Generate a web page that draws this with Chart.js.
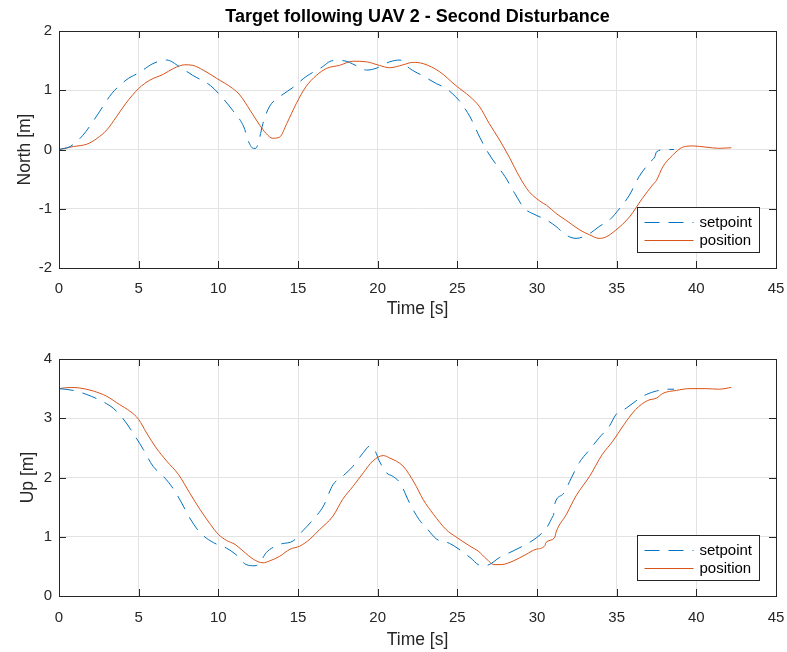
<!DOCTYPE html>
<html>
<head>
<meta charset="utf-8">
<script src="https://cdn.jsdelivr.net/npm/chart.js@4.4.1/dist/chart.umd.min.js"></script>
<style>
  html, body { margin: 0; padding: 0; background: #fff; overflow: hidden; }
  #wrap { position: relative; width: 787px; height: 652px; }
  .box { position: absolute; left: 0; width: 787px; height: 326px; }
  #title {
    position: absolute; left: 59px; width: 717px; top: 6px;
    text-align: center; font: bold 18px "Liberation Sans", Arial, sans-serif; color: #000;
  }
</style>
</head>
<body>
<div id="wrap">
  <div class="box" style="top:0"><canvas id="northChart"></canvas></div>
  <div class="box" style="top:326px"><canvas id="upChart"></canvas></div>
  <div id="title">Target following UAV 2 - Second Disturbance</div>
</div>
<script>
// Time axis ticks (shared)
const timeTicks = [0, 5, 10, 15, 20, 25, 30, 35, 40, 45];
const northTicks = [-2, -1, 0, 1, 2];
const upTicks = [0, 1, 2, 3, 4];

// North - setpoint
const tNorthSet = [0, 0.7, 1.5, 2.4, 3.3, 4.2, 5.1, 5.9, 6.75, 7.6, 8.4, 9.5, 10.2, 10.9, 11.6, 11.9, 12.2, 12.35, 12.6, 12.8, 13.2, 13.85, 14.7, 15.5, 16.4, 17.2, 17.8, 18.7, 19.3, 19.9, 20.75, 21.4, 22.0, 22.85, 23.7, 24.3, 24.7, 25.1, 25.8, 26.4, 26.9, 27.4, 28.0, 28.6, 29.2, 29.95, 30.6, 31.2, 31.8, 32.45, 33.3, 33.9, 34.55, 35.2, 35.8, 36.4, 37.1, 37.4, 37.5, 38.1, 38.6];
const northSet = [0, 0.05, 0.24, 0.58, 0.94, 1.17, 1.31, 1.45, 1.51, 1.39, 1.25, 1.08, 0.89, 0.66, 0.38, 0.13, 0.02, 0.02, 0.21, 0.44, 0.72, 0.89, 1.05, 1.23, 1.37, 1.5, 1.5, 1.41, 1.34, 1.37, 1.48, 1.51, 1.37, 1.24, 1.11, 1.03, 0.94, 0.83, 0.55, 0.21, -0.04, -0.24, -0.46, -0.74, -0.99, -1.11, -1.19, -1.30, -1.44, -1.50, -1.42, -1.30, -1.19, -0.99, -0.77, -0.46, -0.21, -0.12, -0.04, 0.0, 0.0];

// North - position
const tNorthPos = [0, 0.9, 1.75, 2.4, 3.0, 3.6, 4.2, 5.0, 5.7, 6.55, 7.2, 7.9, 8.4, 9.05, 9.9, 10.9, 11.35, 12.0, 12.6, 13.0, 13.4, 13.85, 14.3, 14.9, 15.5, 16.15, 16.8, 17.6, 18.45, 19.3, 20.1, 20.75, 21.6, 22.2, 22.85, 23.9, 24.9, 25.8, 26.4, 27.0, 27.65, 28.3, 28.9, 29.5, 30.4, 30.6, 31.2, 31.8, 32.7, 33.3, 33.9, 34.3, 34.95, 35.8, 36.6, 37.25, 37.5, 37.9, 38.5, 39.15, 39.8, 40.6, 41.4, 42.2];
const northPos = [0, 0.05, 0.09, 0.19, 0.33, 0.55, 0.78, 1.03, 1.17, 1.27, 1.37, 1.43, 1.42, 1.34, 1.2, 1.03, 0.92, 0.66, 0.41, 0.27, 0.19, 0.21, 0.44, 0.78, 1.06, 1.25, 1.37, 1.42, 1.49, 1.48, 1.42, 1.38, 1.43, 1.47, 1.45, 1.31, 1.08, 0.89, 0.72, 0.44, 0.16, -0.15, -0.46, -0.71, -0.91, -0.94, -1.08, -1.19, -1.36, -1.44, -1.50, -1.48, -1.36, -1.14, -0.83, -0.60, -0.52, -0.29, -0.1, 0.04, 0.06, 0.04, 0.02, 0.03];

// Up - setpoint
const tUpSet = [0, 0.9, 1.75, 2.6, 3.4, 4.0, 4.65, 5.3, 5.9, 6.55, 7.2, 7.7, 8.2, 8.85, 9.7, 10.5, 11.1, 11.75, 12.3, 12.6, 13.0, 13.85, 14.7, 15.3, 15.95, 16.6, 17.2, 17.8, 18.45, 19.1, 19.5, 19.8, 20.1, 20.55, 20.95, 21.4, 22.0, 22.6, 23.15, 23.7, 24.5, 25.1, 25.8, 26.5, 27.0, 27.65, 28.5, 29.3, 29.95, 30.6, 31.0, 31.05, 31.1, 31.6, 32.15, 32.65, 33.3, 33.9, 34.55, 34.95, 35.6, 36.2, 36.85, 37.5, 38.1, 38.6];
const upSet = [3.5, 3.47, 3.40, 3.30, 3.17, 3.0, 2.75, 2.47, 2.19, 2.02, 1.80, 1.57, 1.32, 1.07, 0.90, 0.81, 0.70, 0.53, 0.51, 0.56, 0.73, 0.87, 0.93, 1.10, 1.29, 1.52, 1.88, 2.02, 2.19, 2.42, 2.53, 2.47, 2.28, 2.08, 2.02, 1.91, 1.57, 1.29, 1.12, 0.96, 0.89, 0.79, 0.65, 0.51, 0.53, 0.65, 0.76, 0.87, 0.98, 1.15, 1.35, 1.38, 1.54, 1.71, 1.99, 2.25, 2.47, 2.67, 2.87, 3.06, 3.17, 3.29, 3.40, 3.46, 3.49, 3.49];

// Up - position
const tUpPos = [0, 0.7, 1.3, 2.15, 3.0, 3.8, 4.45, 5.0, 5.5, 6.1, 6.75, 7.5, 8.2, 8.85, 9.5, 10.0, 10.5, 11.05, 11.55, 12.2, 12.8, 13.2, 13.85, 14.5, 15.1, 15.75, 16.35, 17.2, 17.8, 18.45, 19.1, 19.7, 20.35, 20.75, 21.6, 22.3, 22.85, 23.5, 24.3, 24.9, 25.8, 26.3, 26.85, 27.3, 27.75, 28.5, 29.3, 29.95, 30.5, 30.55, 31.1, 31.2, 31.85, 32.45, 33.3, 34.1, 34.75, 35.4, 36.2, 36.95, 37.5, 37.9, 38.75, 39.6, 40.6, 41.4, 42.2];
const upPos = [3.5, 3.52, 3.51, 3.46, 3.37, 3.23, 3.12, 2.98, 2.75, 2.50, 2.28, 2.05, 1.74, 1.46, 1.21, 1.04, 0.94, 0.87, 0.76, 0.62, 0.56, 0.59, 0.67, 0.79, 0.84, 0.96, 1.12, 1.35, 1.63, 1.85, 2.08, 2.28, 2.37, 2.33, 2.19, 1.91, 1.63, 1.38, 1.12, 1.0, 0.84, 0.76, 0.62, 0.53, 0.53, 0.59, 0.70, 0.79, 0.85, 0.90, 0.98, 1.08, 1.38, 1.69, 2.02, 2.39, 2.61, 2.87, 3.15, 3.30, 3.34, 3.42, 3.47, 3.50, 3.50, 3.49, 3.52];

const colors = {
    setpoint: '#0072BD',
    position: '#D95319',
    axis: '#262626',
    grid: '#e3e3e3'
};
const fontFamily = '"Liberation Sans", Arial, Helvetica, sans-serif';
const setDash = [15, 9];

function toPoints(ts, vs) {
    return ts.map((t, i) => ({ x: t, y: vs[i] }));
}

// MATLAB style box with inward ticks on all four sides, plus legend
const boxPlugin = {
    id: 'boxPlugin',
    afterDatasetsDraw(chart) {
        const { ctx, chartArea: a, scales: { x, y } } = chart;
        const tl = 7;
        ctx.save();
        ctx.strokeStyle = colors.axis;
        ctx.lineWidth = 1;
        ctx.beginPath();
        x.ticks.forEach(t => {
            const px = Math.round(x.getPixelForValue(t.value)) + 0.5;
            ctx.moveTo(px, a.bottom); ctx.lineTo(px, a.bottom - tl);
            ctx.moveTo(px, a.top); ctx.lineTo(px, a.top + tl);
        });
        y.ticks.forEach(t => {
            const py = Math.round(y.getPixelForValue(t.value)) + 0.5;
            ctx.moveTo(a.left, py); ctx.lineTo(a.left + tl, py);
            ctx.moveTo(a.right, py); ctx.lineTo(a.right - tl, py);
        });
        ctx.stroke();
        ctx.strokeRect(Math.round(a.left) + 0.5, Math.round(a.top) + 0.5, Math.round(a.width), Math.round(a.height));

        // legend box, bottom right inside the axes
        const w = 122, h = 45;
        const lx = Math.round(a.right) - 17 - w + 0.5;
        const ly = Math.round(a.bottom) - 16 - h + 0.5;
        ctx.fillStyle = '#fff';
        ctx.fillRect(lx, ly, w, h);
        ctx.strokeStyle = colors.axis;
        ctx.strokeRect(lx, ly, w, h);
        ctx.font = '15px ' + fontFamily;
        ctx.textBaseline = 'middle';
        ctx.textAlign = 'left';
        chart.data.datasets.forEach((ds, i) => {
            const ry = ly + 15 + i * 18;
            ctx.beginPath();
            ctx.strokeStyle = ds.borderColor;
            ctx.setLineDash(ds.borderDash || []);
            ctx.moveTo(lx + 7, ry);
            ctx.lineTo(lx + 56, ry);
            ctx.stroke();
            ctx.setLineDash([]);
            ctx.fillStyle = '#000';
            ctx.fillText(ds.label, lx + 62, ry);
        });
        ctx.restore();
    }
};

function makeChart(id, yLabel, yMin, yMax, yTicks, setPts, posPts, opts) {
    const ctx = document.getElementById(id).getContext('2d');
    return new Chart(ctx, {
        type: 'line',
        data: {
            datasets: [{
                label: 'setpoint',
                data: setPts,
                borderColor: colors.setpoint,
                borderWidth: 1,
                borderDash: setDash,
                pointRadius: 0,
                cubicInterpolationMode: 'monotone'
            }, {
                label: 'position',
                data: posPts,
                borderColor: colors.position,
                borderWidth: 1,
                pointRadius: 0,
                cubicInterpolationMode: 'monotone'
            }]
        },
        options: {
            responsive: true,
            maintainAspectRatio: false,
            animation: false,
            layout: { padding: { top: opts.top, right: 11, left: 0, bottom: 0 } },
            plugins: {
                legend: { display: false },
                tooltip: { enabled: false }
            },
            scales: {
                x: {
                    type: 'linear',
                    min: 0,
                    max: 45,
                    afterBuildTicks: s => { s.ticks = timeTicks.map(v => ({ value: v })); },
                    afterFit: s => { s.height = opts.xHeight; s.paddingLeft = 0; s.paddingRight = 0; },
                    grid: { color: colors.grid, drawTicks: false },
                    border: { display: false },
                    ticks: { color: colors.axis, padding: opts.tickPad, font: { family: fontFamily, size: 15 } },
                    title: {
                        display: true,
                        text: 'Time [s]',
                        color: colors.axis,
                        font: { family: fontFamily, size: 17.5 },
                        padding: { top: 0, bottom: opts.titlePad }
                    }
                },
                y: {
                    min: yMin,
                    max: yMax,
                    afterBuildTicks: s => { s.ticks = yTicks.map(v => ({ value: v })); },
                    afterFit: s => { s.width = 59; s.paddingTop = 0; s.paddingBottom = 0; },
                    grid: { color: colors.grid, drawTicks: false },
                    border: { display: false },
                    ticks: { color: colors.axis, padding: 7, font: { family: fontFamily, size: 15 } },
                    title: {
                        display: true,
                        text: yLabel,
                        color: colors.axis,
                        font: { family: fontFamily, size: 17.5 },
                        padding: { top: opts.yTitlePad, bottom: 0 }
                    }
                }
            }
        },
        plugins: [boxPlugin]
    });
}

makeChart('northChart', 'North [m]', -2, 2, northTicks,
    toPoints(tNorthSet, northSet), toPoints(tNorthPos, northPos),
    { top: 31, xHeight: 58, tickPad: 11.5, titlePad: 6, yTitlePad: 14.5 });

makeChart('upChart', 'Up [m]', 0, 4, upTicks,
    toPoints(tUpSet, upSet), toPoints(tUpPos, upPos),
    { top: 33, xHeight: 56, tickPad: 12.5, titlePad: 1, yTitlePad: 17.5 });
</script>
</body>
</html>
